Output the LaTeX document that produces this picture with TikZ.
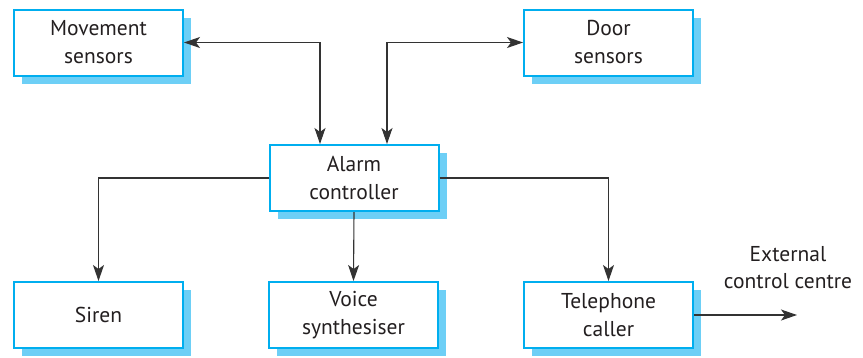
\documentclass[tikz,border=0pt]{standalone}
\usepackage{fontspec}
\setmainfont{PT Sans}
\usetikzlibrary{shadows,arrows.meta}
\definecolor{boxblue}{HTML}{00AEEF}
\definecolor{shadowblue}{HTML}{6DCFF6}
\definecolor{linegray}{HTML}{333333}
\definecolor{textblack}{HTML}{231F20}

\begin{document}
\begin{tikzpicture}[
    x=1pt, y=-1pt,
    box/.style={
        draw=boxblue,
        line width=2pt,
        fill=white,
        minimum width=169pt,
        minimum height=66pt,
        align=center,
        text=textblack,
        font=\fontsize{21.5}{28}\selectfont,
        drop shadow={shadow xshift=8pt, shadow yshift=-8pt, fill=shadowblue, opacity=1}
    },
    link/.style={
        draw=linegray,
        line width=1.1pt,
        -{Stealth[length=16pt,width=11pt,inset=4pt]}
    },
    biglink/.style={
        link,
        {Stealth[length=16pt,width=11pt,inset=4pt]}-{Stealth[length=16pt,width=11pt,inset=4pt]}
    }
]
\useasboundingbox (0,0) rectangle (863,357);

% Sensors
\node[box] (mov) at (98.5,42.5) {Movement\\sensors};
\node[box] (door) at (608.5,42.5) {Door\\sensors};

% Controller
\node[box] (ctrl) at (354,178) {Alarm\\controller};

% Outputs
\node[box] (siren) at (98.5,315) {Siren};
\node[box] (voice) at (353.5,315) {Voice\\synthesiser};
\node[box] (tel) at (608.5,315) {Telephone\\caller};

\coordinate (ext) at (797,315);
\node[align=center, text=textblack, font=\fontsize{21.5}{27}\selectfont] (extlabel) at (788,268) {External\\control centre};

% Connections
\draw[biglink] (mov.east) -| ([xshift=-34pt]ctrl.north);
\draw[biglink] (door.west) -| ([xshift=33pt]ctrl.north);
\draw[link] (ctrl.west) -| (siren.north);
\draw[link] (ctrl.south) -- (voice.north);
\draw[link] (ctrl.east) -| (tel.north);
\draw[link] (tel.east) -- (ext);

\end{tikzpicture}
\end{document}
